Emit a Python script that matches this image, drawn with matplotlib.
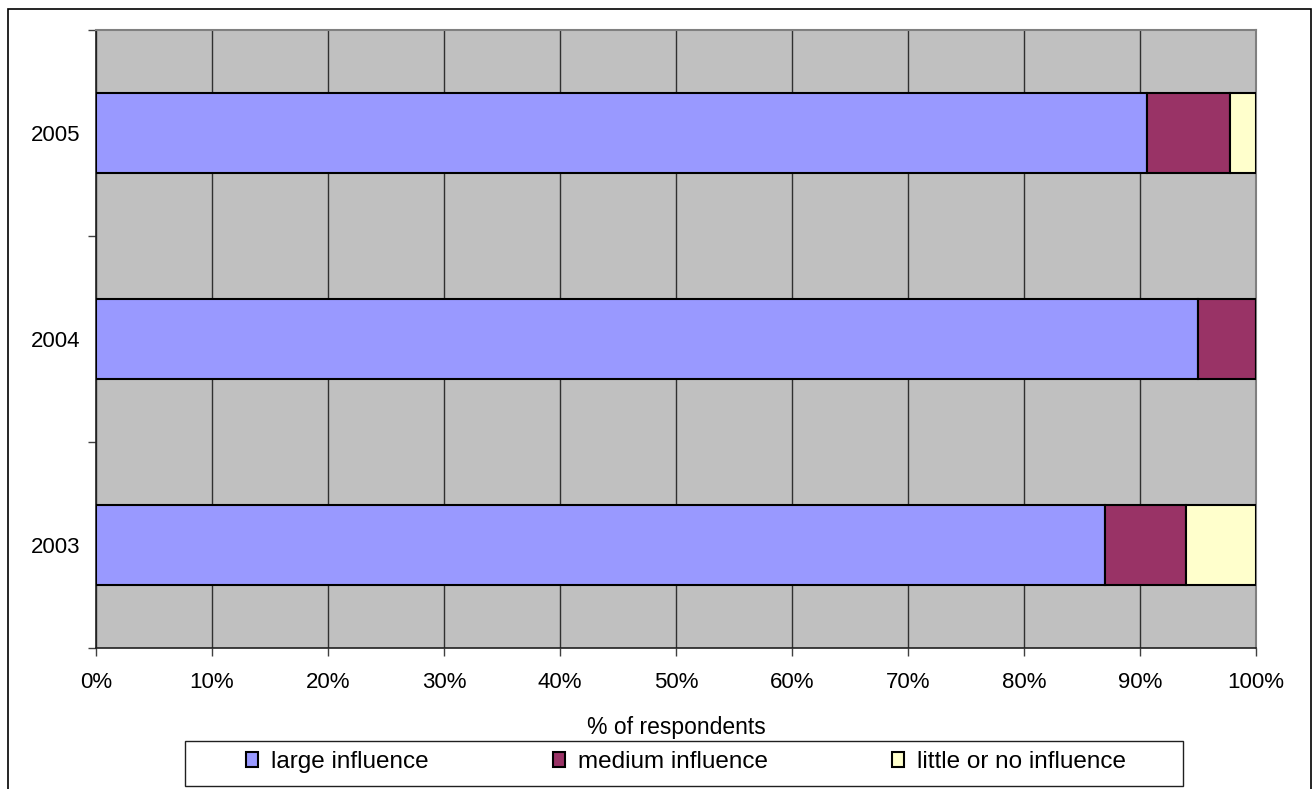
import matplotlib
matplotlib.use("Agg")
import matplotlib.pyplot as plt
from matplotlib.patches import Rectangle
from matplotlib.ticker import FixedLocator, PercentFormatter

plt.rcParams["font.family"] = ["Liberation Sans", "DejaVu Sans"]

years = ["2003", "2004", "2005"]
large = [87.0, 95.0, 90.6]
medium = [7.0, 5.0, 7.2]
little = [6.0, 0.0, 2.2]
series_names = ["large influence", "medium influence", "little or no influence"]
colors = ["#9999FF", "#993366", "#FFFFCC"]

W, H = 1316, 789
fig = plt.figure(figsize=(W / 100, H / 100), dpi=100)

# outer chart frame (bottom edge runs off the canvas)
fig.patches.append(Rectangle((8 / W, -0.05), (1311 - 8) / W, 1.05 - 9 / H,
                             transform=fig.transFigure, fill=False,
                             edgecolor="black", linewidth=1.2))
# legend box
fig.patches.append(Rectangle((185 / W, 1 - 786 / H), (1183 - 185) / W, 45 / H,
                             transform=fig.transFigure, fill=False,
                             edgecolor="#202020", linewidth=1))

ax = fig.add_axes([96 / W, 1 - 648 / H, (1256 - 96) / W, (648 - 30) / H])
ax.set_facecolor("#C0C0C0")

ypos = list(range(len(years)))
left = [0.0] * len(years)
for vals, name, col in zip([large, medium, little], series_names, colors):
    ax.barh(ypos, vals, left=left, height=0.393, color=col,
            edgecolor="black", linewidth=1.5, label=name, zorder=3)
    left = [a + b for a, b in zip(left, vals)]

ax.set_xlim(0, 100)
ax.set_ylim(-0.5, len(years) - 0.5)
ax.xaxis.set_major_locator(FixedLocator(range(0, 101, 10)))
ax.xaxis.set_major_formatter(PercentFormatter(decimals=0))
ax.grid(axis="x", color="#303030", linewidth=1, zorder=1)

ax.set_yticks(ypos)
ax.set_yticklabels(years)
ax.yaxis.set_minor_locator(FixedLocator([y - 0.5 for y in range(len(years) + 1)]))
ax.tick_params(axis="y", which="major", length=0, pad=11, labelsize=16)
ax.tick_params(axis="y", which="minor", length=6, width=1, color="#404040")
ax.tick_params(axis="x", which="major", length=6, width=1, color="#404040",
               pad=11, labelsize=16)

for side in ["left", "bottom"]:
    ax.spines[side].set_color("#202020")
    ax.spines[side].set_linewidth(1.2)
for side in ["top", "right"]:
    ax.spines[side].set_color("#808080")
    ax.spines[side].set_linewidth(1.5)

ax.set_xlabel("% of respondents", fontsize=16.5, labelpad=17)

leg = fig.legend(loc="center", bbox_to_anchor=(686 / W, 1 - 762 / H),
                 ncol=3, fontsize=17.5, frameon=False,
                 handlelength=0.5, handleheight=0.6, handletextpad=0.53,
                 columnspacing=5.1, borderaxespad=0, borderpad=0)

fig.savefig("out.png", dpi=100)
